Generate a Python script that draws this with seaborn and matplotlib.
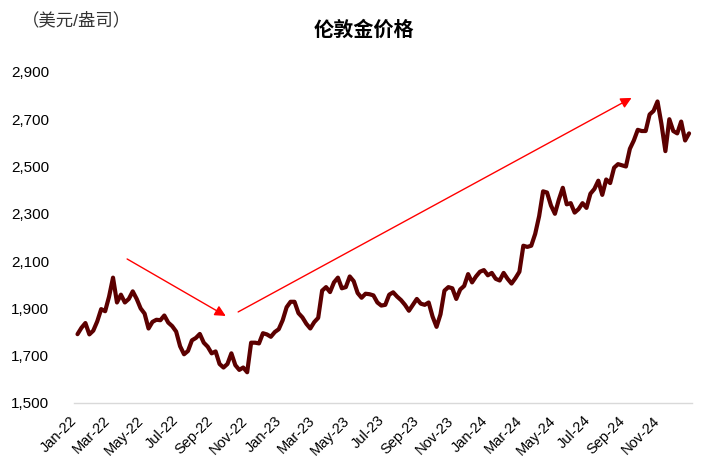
import numpy as np
import pandas as pd
import matplotlib
matplotlib.use("Agg")
import matplotlib.pyplot as plt
import matplotlib.dates as mdates
import matplotlib.ticker as mticker
import seaborn as sns

# weekly London gold price (USD/oz)
price_2022 = [1791, 1818, 1838, 1790, 1806, 1845, 1897, 1888, 1950, 2030,
              1925, 1958, 1925, 1940, 1972, 1940, 1900, 1878, 1815, 1843,
              1852, 1850, 1870, 1840, 1825, 1802, 1740, 1706, 1720, 1765,
              1775, 1792, 1755, 1738, 1710, 1718, 1665, 1650, 1665, 1710,
              1660, 1640, 1650, 1630, 1755, 1755, 1752, 1795, 1790, 1780,
              1800, 1812]
price_2023 = [1850, 1905, 1928, 1928, 1880, 1862, 1835, 1815, 1842, 1860,
              1975, 1990, 1969, 2010, 2030, 1985, 1990, 2035, 2015, 1965,
              1945, 1962, 1960, 1955, 1925, 1912, 1915, 1958, 1968, 1950,
              1935, 1915, 1890, 1915, 1940, 1920, 1915, 1925, 1865, 1822,
              1875, 1975, 1990, 1985, 1940, 1980, 1995, 2045, 2010, 2035,
              2055, 2062]
price_2024 = [2040, 2050, 2025, 2018, 2050, 2025, 2005, 2028, 2055, 2165,
              2160, 2165, 2215, 2290, 2395, 2390, 2335, 2300, 2360, 2410,
              2340, 2345, 2305, 2320, 2345, 2325, 2385, 2405, 2440, 2380,
              2445, 2430, 2495, 2510, 2505, 2500, 2575, 2610, 2655, 2650,
              2650, 2720, 2735, 2775, 2680, 2565, 2700, 2650, 2640, 2690,
              2610, 2640]
prices = price_2022 + price_2023 + price_2024
dates = pd.date_range("2022-01-07", periods=len(prices), freq="7D")
gold = pd.DataFrame({"date": dates, "price": prices})

y_ticks = [1500, 1700, 1900, 2100, 2300, 2500, 2700, 2900]
tick_dates = pd.date_range("2022-01-01", "2025-01-01", freq="2MS")
tick_labels = ["Jan-22", "Mar-22", "May-22", "Jul-22", "Sep-22", "Nov-22",
               "Jan-23", "Mar-23", "May-23", "Jul-23", "Sep-23", "Nov-23",
               "Jan-24", "Mar-24", "May-24", "Jul-24", "Sep-24", "Nov-24", ""]

# trend arrows (tail -> head)
arrow_down = (("2022-04-05", 2109), ("2022-09-27", 1868))
arrow_up = (("2022-10-19", 1885), ("2024-09-16", 2790))

sns.set_style("white")
plt.rcParams["font.family"] = ["Liberation Sans", "Noto Sans CJK SC"]
plt.rcParams["text.color"] = "black"
plt.rcParams["xtick.labelcolor"] = "black"
plt.rcParams["ytick.labelcolor"] = "black"

fig = plt.figure(figsize=(7.06, 4.73), dpi=100)
ax = fig.add_axes([0.105, 0.148, 0.875, 0.700])

sns.lineplot(data=gold, x="date", y="price", color="#5C0000",
             linewidth=3, ax=ax)

ax.set_xlim(pd.Timestamp("2022-01-01"), pd.Timestamp("2025-01-01"))
ax.set_ylim(y_ticks[0], y_ticks[-1])
ax.set_yticks(y_ticks)
ax.yaxis.set_major_formatter(mticker.StrMethodFormatter("{x:,.0f}"))
ax.set_xticks(tick_dates)
ax.set_xticklabels(tick_labels, rotation=45, ha="right", va="center",
                   rotation_mode="anchor", fontsize=10.5)
ax.tick_params(axis="x", length=4, color="#D9D9D9", pad=7, labelcolor="black")
ax.tick_params(axis="y", length=0, labelsize=11, pad=18, labelcolor="black")
ax.set_xlabel("")
ax.set_ylabel("")

for s in ["left", "top", "right"]:
    ax.spines[s].set_visible(False)
ax.spines["bottom"].set_color("#D9D9D9")
ax.spines["bottom"].set_linewidth(1)

for (t0, y0), (t1, y1) in [arrow_down, arrow_up]:
    ax.annotate("", xy=(mdates.date2num(pd.Timestamp(t1)), y1),
                xytext=(mdates.date2num(pd.Timestamp(t0)), y0),
                arrowprops=dict(arrowstyle="-|>", color="red", lw=1,
                                mutation_scale=16, shrinkA=0, shrinkB=0))

fig.text(364 / 706, 1 - 30 / 473, "伦敦金价格", ha="center", va="center",
         fontsize=14.5, fontweight="bold", color="black")
fig.text(22 / 706, 1 - 20 / 473, "（美元/盎司）", ha="left", va="center",
         fontsize=12.5, color="#333333")

fig.savefig("out.png", dpi=100)
